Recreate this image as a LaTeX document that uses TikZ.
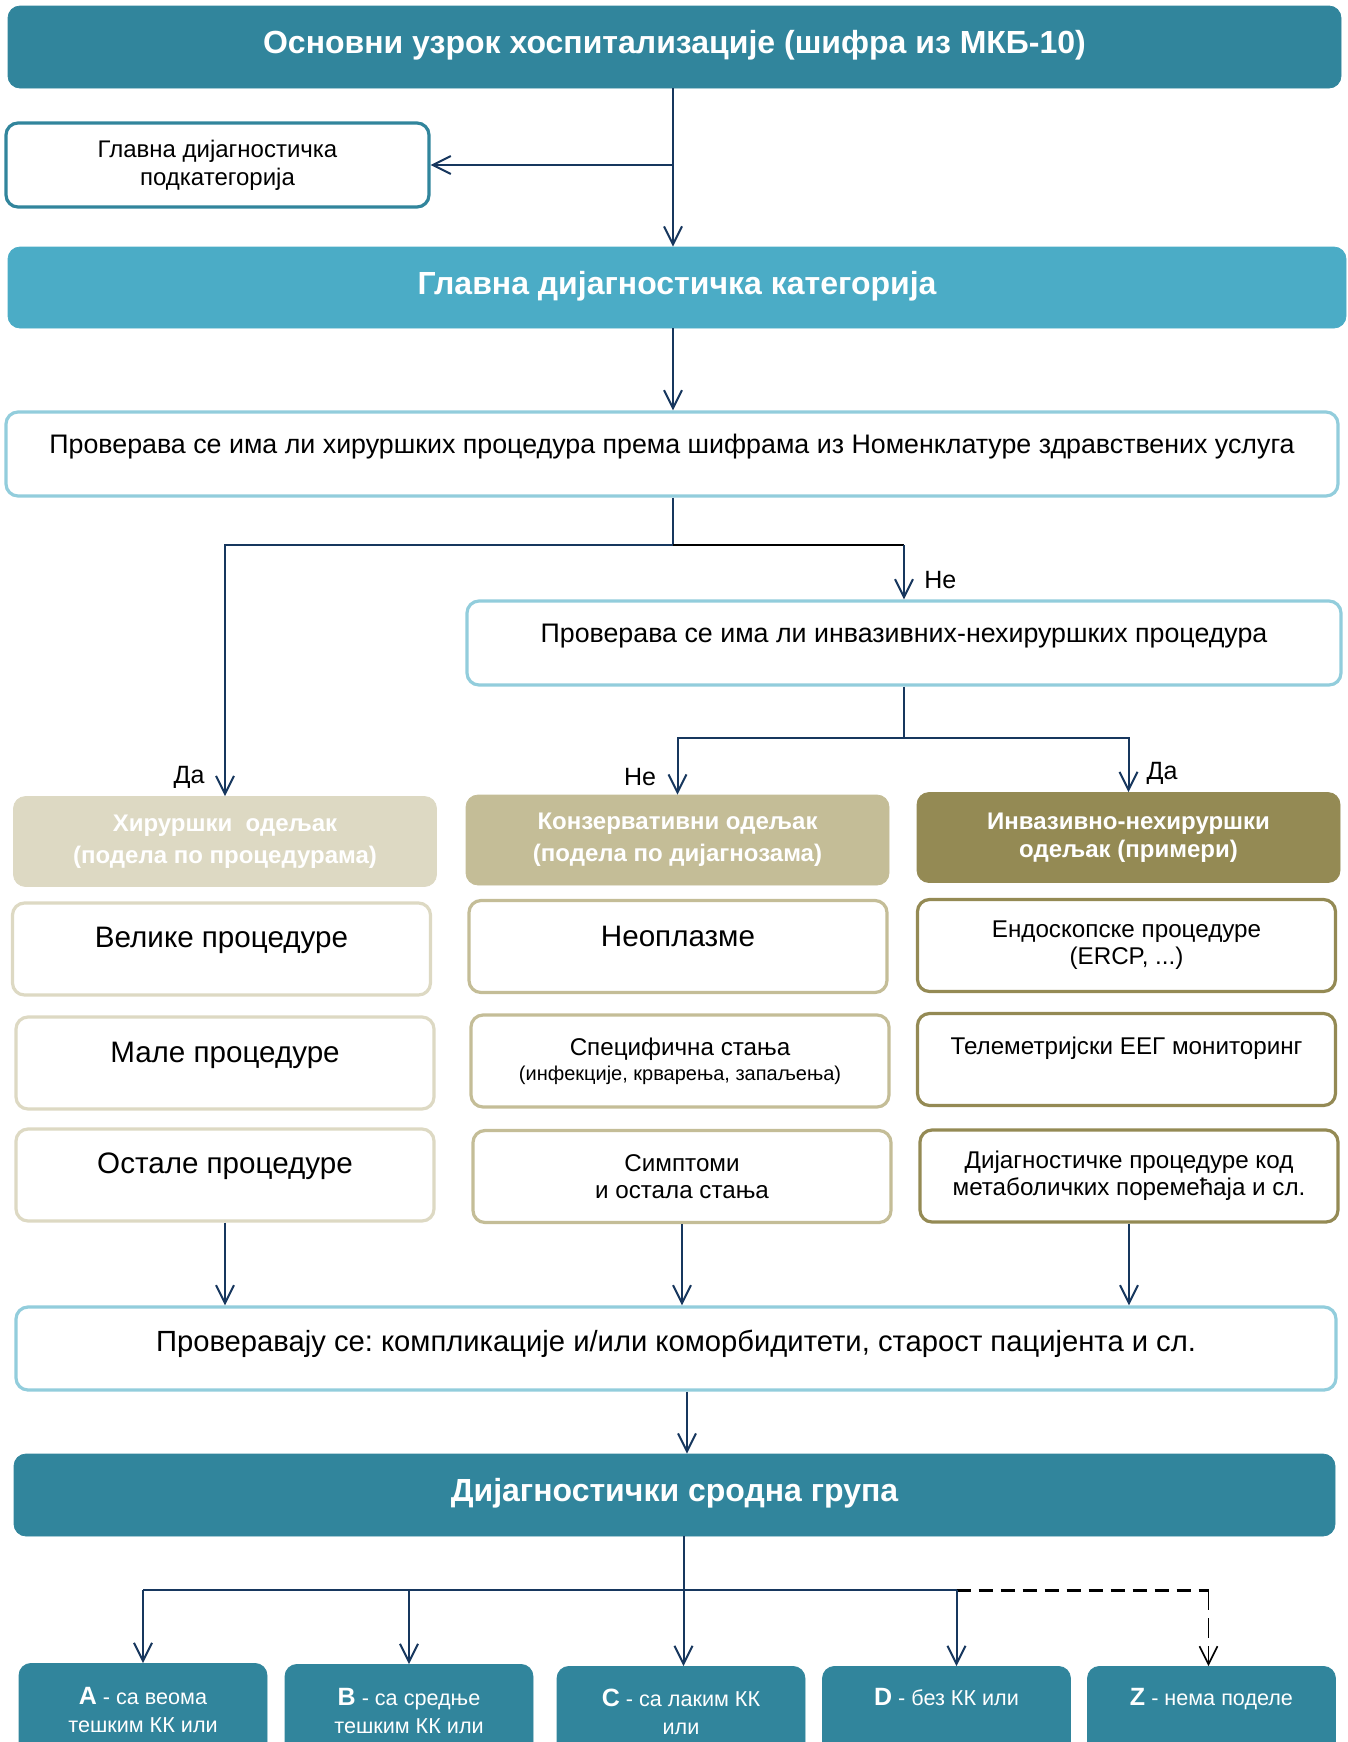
\documentclass[tikz,border=0pt]{standalone}
\usepackage{fontspec}
\setmainfont{Liberation Sans}
\usepackage{xcolor}
\definecolor{petrol}{RGB}{49,133,156}
\definecolor{sky}{RGB}{75,172,198}
\definecolor{frost}{RGB}{146,205,220}
\definecolor{sand}{RGB}{221,217,195}
\definecolor{khaki}{RGB}{196,189,151}
\definecolor{moss}{RGB}{148,138,84}
\definecolor{navy}{RGB}{23,55,94}
\usepackage{tikz}
\usetikzlibrary{arrows.meta,positioning}
\frenchspacing
\newcommand{\drgclass}[1]{{\bfseries\fontsize{12.5}{14}\selectfont #1}}
\tikzset{
  %% filled bars, white text
  titlebar/.style={fill=#1, draw=#1, rounded corners=6pt, text=white,
    inner sep=0pt, align=center, font=\fontsize{16}{19}\selectfont\bfseries},
  header/.style={titlebar=#1, minimum width=211.5pt, minimum height=45pt,
    font=\fontsize{12}{16}\selectfont\bfseries},
  grp/.style={titlebar=petrol, anchor=north, minimum width=124pt,
    minimum height=75pt, font=\fontsize{10.8}{14}\selectfont},
  %% outlined boxes
  cell/.style={draw=#1, fill=white, rounded corners=6pt, line width=1.6pt,
    inner sep=0pt, align=center},
  check/.style={cell=frost, font=\fontsize{13.4}{16}\selectfont},
  item/.style={cell=#1, minimum width=209pt, minimum height=46pt,
    font=\fontsize{12.1}{13.5}\selectfont},
  %% connectors
  arr/.style={draw=navy, line width=1pt, -{Straight Barb[length=9pt,width=9pt]}},
  wire/.style={draw=navy, line width=1.4pt},
  lbl/.style={inner sep=1pt, font=\fontsize{12.5}{15}\selectfont},
}

\begin{document}
\begin{tikzpicture}[x=0.5pt,y=-0.5pt]
\clip (0,0) rectangle (1348,1742);
%% upper part
\node[titlebar=petrol, minimum width=666.5pt, minimum height=41pt, text depth=5pt]
  (cause) at (674.5,47) {Основни узрок хоспитализације (шифра из МКБ-10)};
\node[cell=petrol, minimum width=211.5pt, minimum height=42pt,
  font=\fontsize{12}{14}\selectfont] (subcat) at (217.5,165)
  {Главна дијагностичка\\подкатегорија};
\node[titlebar=sky, minimum width=669pt, minimum height=40.5pt, text depth=5pt]
  (mdc) at (677,287.5) {Главна дијагностичка категорија};
\node[check, minimum width=666pt, minimum height=42pt, text depth=10pt]
  (surgcheck) at (672,454)
  {Проверава се има ли хируршких процедура према шифрама из Номенклатуре здравствених услуга};
\node[check, minimum width=437pt, minimum height=42pt, text depth=10pt]
  (invcheck) at (904,643) {Проверава се има ли инвазивних-нехируршких процедура};

%% partitions
\node[header=sand] (surg) at (225,841.5) {Хируршки~ одељак\\(подела по процедурама)};
\node[header=khaki] (cons) at (677.5,840) {Конзервативни одељак\\(подела по дијагнозама)};
\node[header=moss, font=\fontsize{12}{14}\selectfont\bfseries]
  (inv) at (1128.5,837.5) {Инвазивно-нехируршки\\одељак (примери)};

\node[item=sand, font=\fontsize{14.8}{17}\selectfont, text depth=12pt]
  (big) at (221.5,949) {Велике процедуре};
\node[item=sand, font=\fontsize{14.8}{17}\selectfont, text depth=11pt]
  (small) at (225,1063) {Мале процедуре};
\node[item=sand, font=\fontsize{14.8}{17}\selectfont, text depth=12pt]
  (other) at (225,1175) {Остале процедуре};

\node[item=khaki, font=\fontsize{14.8}{17}\selectfont, text depth=10.5pt]
  (neo) at (678,946.5) {Неоплазме};
\node[item=khaki, font=\fontsize{12.1}{12.5}\selectfont] (spec) at (680,1061)
  {Специфична стања\\{\fontsize{10}{11}\selectfont (инфекције, крварења, запаљења)}};
\node[item=khaki] (symp) at (682,1176.5) {Симптоми\\и остала стања};

\node[item=moss] (endo) at (1126.5,945.5) {Ендоскопске процедуре\\(ERCP, ...)};
\node[item=moss, text depth=13.5pt] (eeg) at (1126.5,1059.5) {Телеметријски ЕЕГ мониторинг};
\node[item=moss] (meta) at (1129,1176) {Дијагностичке процедуре код\\метаболичких поремећаја и сл.};

%% lower part
\node[check, minimum width=660pt, minimum height=41.5pt, text depth=8pt,
  font=\fontsize{14.6}{17}\selectfont] (compl) at (676,1348.5)
  {Проверавају се: компликације и/или коморбидитети, старост пацијента и сл.};
\node[titlebar=petrol, minimum width=660.5pt, minimum height=41pt, text depth=5pt]
  (drg) at (674.5,1495) {Дијагностички сродна група};

\node[grp, text depth=29pt] (grpA) at (143,1663) {\drgclass{A} - са веома\\тешким КК или};
\node[grp, text depth=29pt] (grpB) at (409,1664) {\drgclass{B} - са средње\\тешким КК или};
\node[grp, text depth=30pt] (grpC) at (681,1666) {\drgclass{C} - са лаким КК\\или};
\node[grp, text depth=45pt] (grpD) at (946.5,1666) {\drgclass{D} - без КК или};
\node[grp, text depth=45pt] (grpZ) at (1211.5,1666) {\drgclass{Z} - нема поделе};

%% yes / no labels
\node[lbl, anchor=west] (no1) at (922,580) {Не};
\node[lbl] (yes1) at (189,777) {Да};
\node[lbl] (no2) at (640,777) {Не};
\node[lbl] (yes2) at (1162,773) {Да};

%% connectors
\coordinate (split1) at (673,545);
\coordinate (split2) at (invcheck.south |- 0,738);
\coordinate (bus) at (684,1590);
\draw[arr] (cause.south -| split1) -- (mdc.north -| split1);
\draw[arr] (split1 |- subcat.east) -- (subcat.east);
\draw[arr] (mdc.south -| split1) -- (surgcheck.north -| split1);
\draw[arr] (surgcheck.south -| split1) -- (split1) -| (surg.north);
\draw[black, line width=1.2pt] (split1) -- (split1 -| invcheck.north);
\draw[arr] (split1 -| invcheck.north) -- (invcheck.north);
\draw[arr] (invcheck.south) -- (split2) -| (cons.north);
\draw[arr] (split2) -| (inv.north);

\draw[arr] (other.south) -- (other.south |- compl.north);
\draw[arr] (symp.south) -- (symp.south |- compl.north);
\draw[arr] (meta.south) -- (meta.south |- compl.north);
\draw[arr] ([xshift=5.5pt]compl.south) -- ([xshift=5.5pt]compl.south |- drg.north);

\draw[arr] ([xshift=4.5pt]drg.south) -- ([xshift=4.5pt]drg.south |- grpC.north);
\draw[wire] (bus -| grpA.north) -- ([xshift=5pt]bus -| grpD.north);
\draw[black, line width=1.5pt, dash pattern=on 7pt off 4pt]
  ([xshift=5pt]bus -| grpD.north) -- ([xshift=-1.5pt]bus -| grpZ.north);
\foreach \g in {grpA,grpB} \draw[arr] (bus -| \g.north) -- (\g.north);
\draw[arr] ([xshift=5pt]bus -| grpD.north) -- ([xshift=5pt]grpD.north);
\draw[arr, draw=black, line width=0.8pt, dash pattern=on 10pt off 4pt]
  ([xshift=-1.5pt]bus -| grpZ.north) -- ([xshift=-1.5pt]grpZ.north);
\end{tikzpicture}
\end{document}
